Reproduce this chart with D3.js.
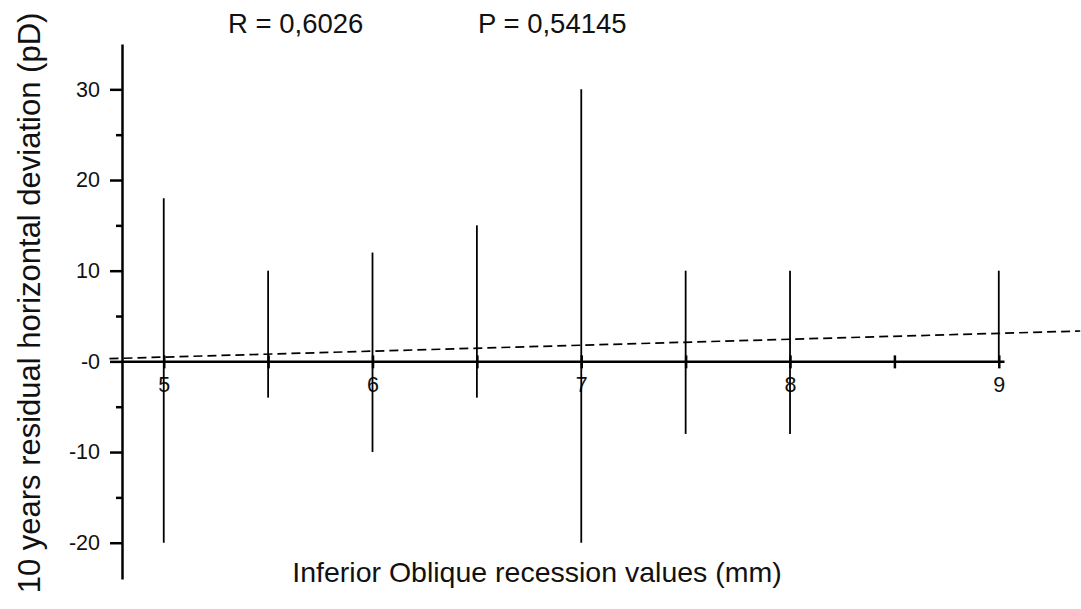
<!DOCTYPE html>
<html>
<head>
<meta charset="utf-8">
<script src="https://cdn.jsdelivr.net/npm/d3@7"></script>
<style>
  html, body { margin: 0; padding: 0; background: #fff; }
  svg text { font-family: "Liberation Sans", Arial, sans-serif; fill: #111; }
</style>
</head>
<body>
<div class="chart"></div>
<script>
// recession value (mm) and the range of the residual deviation (pD)
var recession = [5, 5.5, 6, 6.5, 7, 7.5, 8, 9];
var upperDev = [18, 10, 12, 15, 30, 10, 10, 10];
var lowerDev = [-20, -4, -10, -4, -20, -8, -8, 0];

// dashed fit line, two end points
var fitX = [4.74, 9.39];
var fitY = [0.3, 3.35];

var yMajor = [-20, -10, 0, 10, 20, 30];
var yMajorLabels = ["-20", "-10", "-0", "10", "20", "30"];
var yMinor = [-15, -5, 5, 15, 25];
var xMajor = [5, 6, 7, 8, 9];
var xAllTicks = [5, 5.5, 6, 6.5, 7, 7.5, 8, 8.5, 9];

var statR = "R = 0,6026";
var statP = "P = 0,54145";

var svgWidth = 1081;
var svgHeight = 609;

var svg = d3.select(".chart")
  .append("svg")
  .attr("width", svgWidth)
  .attr("height", svgHeight);

svg.append("rect")
  .attr("width", svgWidth)
  .attr("height", svgHeight)
  .attr("fill", "#fff");

var xScale = d3.scaleLinear().domain([4.8, 9.025]).range([122, 1004]);
var yScale = d3.scaleLinear().domain([-24, 35]).range([579, 44]);

var zeroY = yScale(0);

// y axis, major ticks with labels
var leftAxis = d3.axisLeft(yScale)
  .tickValues(yMajor)
  .tickSize(12)
  .tickSizeOuter(0)
  .tickPadding(10)
  .tickFormat(function(d, i) { return yMajorLabels[i]; });

var yAxisG = svg.append("g")
  .attr("transform", "translate(122,0)")
  .call(leftAxis);
yAxisG.select(".domain").attr("stroke", "#000").attr("stroke-width", 2.5);
yAxisG.selectAll(".tick line").attr("stroke", "#000").attr("stroke-width", 2.5);
yAxisG.selectAll(".tick text").style("font-size", "21.5px");

// minor y ticks
var minorAxis = d3.axisLeft(yScale)
  .tickValues(yMinor)
  .tickSize(6)
  .tickSizeOuter(0)
  .tickFormat("");
var yMinorG = svg.append("g")
  .attr("transform", "translate(122,0)")
  .call(minorAxis);
yMinorG.select(".domain").remove();
yMinorG.selectAll(".tick line").attr("stroke", "#000").attr("stroke-width", 2.5);

// x axis sits on the zero line
var bottomAxis = d3.axisBottom(xScale)
  .tickValues(xAllTicks)
  .tickSize(7)
  .tickSizeOuter(0)
  .tickFormat("");
var xAxisG = svg.append("g")
  .attr("transform", "translate(0," + zeroY + ")")
  .call(bottomAxis);
xAxisG.select(".domain").attr("stroke", "#000").attr("stroke-width", 2.5);
xAxisG.selectAll(".tick line")
  .attr("y1", -6)
  .attr("stroke", "#000")
  .attr("stroke-width", 2.5);

var labelAxis = d3.axisBottom(xScale)
  .tickValues(xMajor)
  .tickSize(0)
  .tickPadding(15)
  .tickFormat(d3.format("d"));
var xLabelG = svg.append("g")
  .attr("transform", "translate(0," + zeroY + ")")
  .call(labelAxis);
xLabelG.select(".domain").remove();
xLabelG.selectAll(".tick text").style("font-size", "21.5px");

// vertical range bars
svg.append("g")
  .selectAll("line")
  .data(recession)
  .enter().append("line")
    .attr("x1", function(d) { return xScale(d); })
    .attr("x2", function(d) { return xScale(d); })
    .attr("y1", function(d, i) { return yScale(upperDev[i]); })
    .attr("y2", function(d, i) { return yScale(lowerDev[i]); })
    .attr("stroke", "#000")
    .attr("stroke-width", 1.8);

// dashed fit
var fitLine = d3.line()
  .x(function(d) { return xScale(d); })
  .y(function(d, i) { return yScale(fitY[i]); });

svg.append("path")
  .datum(fitX)
  .attr("d", fitLine)
  .attr("fill", "none")
  .attr("stroke", "#000")
  .attr("stroke-width", 1.7)
  .attr("stroke-dasharray", "9,5");

// stats at the top
svg.append("text")
  .attr("x", 228)
  .attr("y", 33)
  .style("font-size", "27.5px")
  .text(statR);

svg.append("text")
  .attr("x", 478)
  .attr("y", 33)
  .style("font-size", "27.5px")
  .text(statP);

// axis titles
svg.append("text")
  .attr("x", 537)
  .attr("y", 582)
  .attr("text-anchor", "middle")
  .style("font-size", "28.5px")
  .text("Inferior Oblique recession values (mm)");

svg.append("text")
  .attr("transform", "translate(40,303) rotate(-90)")
  .attr("text-anchor", "middle")
  .style("font-size", "31px")
  .text("10 years residual horizontal deviation (pD)");
</script>
</body>
</html>
